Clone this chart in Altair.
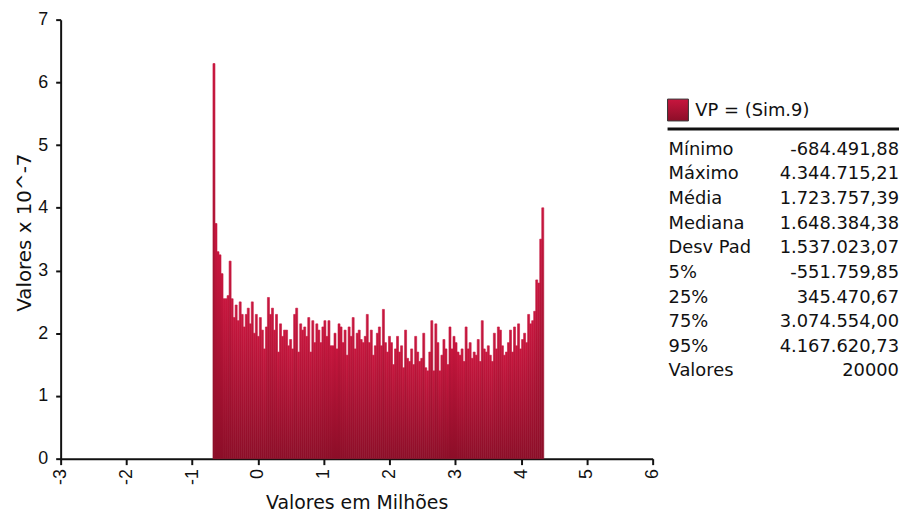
import altair as alt
import pandas as pd

# Histogram: bar heights (x 10^-7), evenly spaced bins between min and max
x_min = -0.68449188
x_max = 4.34471521
heights = [
    6.3, 3.75, 3.3, 3.25, 2.95, 2.55, 2.55, 2.6, 3.15, 2.55,
    2.25, 2.45, 2.2, 2.5, 2.3, 2.1, 2.3, 2.4, 2.15, 2.5,
    2.0, 2.3, 1.95, 2.25, 2.05, 1.75,
    2.1, 2.57, 2.3, 2.4, 2.05, 2.3, 1.7, 2.15, 1.95, 2.05,
    2.05, 1.8, 1.9, 1.75, 2.3, 2.4, 1.7, 2.15, 2.05, 2.1,
    1.95, 2.25, 1.7, 2.2, 1.85, 2.15, 2.05,
    1.85, 2.1, 2.2, 1.95, 2.2, 1.8, 1.8, 2.0, 1.75, 2.15,
    2.1, 1.85, 2.05, 1.65, 2.1, 1.95, 2.25, 1.75, 2.0, 2.05,
    1.9, 1.85, 1.95, 2.3, 1.85, 2.05, 1.65,
    1.8, 2.0, 2.1, 1.8, 2.38, 1.85, 1.7, 1.95, 1.85, 1.5,
    1.75, 1.95, 1.7, 1.8, 1.45, 2.05, 1.6, 1.55, 1.75, 1.5,
    1.95, 1.7, 1.55, 1.6, 2.0, 1.45, 1.4,
    1.7, 2.2, 1.4, 2.15, 1.85, 1.4, 1.65, 1.9, 1.75, 1.5,
    2.1, 1.75, 1.95, 1.85, 1.7, 1.65, 1.75, 1.55, 2.1, 1.75,
    1.85, 1.6, 1.7, 1.65, 1.9, 1.55, 2.2,
    1.75, 1.7, 1.8, 1.65, 1.55, 2.0, 1.75, 2.1, 2.05, 1.8,
    1.65, 1.7, 1.85, 2.05, 1.7, 2.1, 1.8, 2.15, 1.75, 1.9,
    2.0, 1.85, 2.3, 2.15, 2.2, 2.35, 2.85, 2.8, 3.5, 4.0,
]

x_ticks = [-3, -2, -1, 0, 1, 2, 3, 4, 5, 6]
y_ticks = [0, 1, 2, 3, 4, 5, 6, 7]

legend_title = "VP = (Sim.9)"
stat_labels = ["Mínimo", "Máximo", "Média", "Mediana", "Desv Pad",
               "5%", "25%", "75%", "95%", "Valores"]
stat_values = ["-684.491,88", "4.344.715,21", "1.723.757,39", "1.648.384,38",
               "1.537.023,07", "-551.759,85", "345.470,67", "3.074.554,00",
               "4.167.620,73", "20000"]

n = len(heights)
w = (x_max - x_min) / n
df = pd.DataFrame({
    "start": [x_min + i * w for i in range(n)],
    "end": [x_min + (i + 1) * w for i in range(n)],
    "h": heights,
})

FONT = "Liberation Sans"
WIDE = "DejaVu Sans"
grad = alt.Gradient(
    gradient="linear",
    stops=[alt.GradientStop(color="#C8163E", offset=0),
           alt.GradientStop(color="#8C0E28", offset=1)],
    x1=0, x2=0, y1=0, y2=1,
)

bars = alt.Chart(df).mark_bar(color=grad, stroke=grad, strokeWidth=0.6).encode(
    x=alt.X("start:Q",
            scale=alt.Scale(domain=[-3, 6], nice=False, zero=False),
            axis=alt.Axis(values=x_ticks, title="Valores em Milhões",
                          labelAngle=270, labelPadding=4, tickSize=6,
                          labelExpr="'' + datum.value",
                          titlePadding=9, grid=False)),
    x2="end:Q",
    y=alt.Y("h:Q",
            scale=alt.Scale(domain=[0, 7], nice=False),
            axis=alt.Axis(values=y_ticks, title="Valores x 10^-7",
                          tickSize=5, labelPadding=8, titlePadding=3,
                          titleY=214, titleFontSize=20,
                          labelExpr="'' + datum.value",
                          grid=False)),
    y2=alt.datum(0),
)

one = pd.DataFrame({"t": [""]})
layers = [bars]

# legend swatch
layers.append(alt.Chart(one).mark_rect(color=grad, stroke="#333", strokeWidth=1).encode(
    x=alt.value(611), x2=alt.value(632), y=alt.value(80), y2=alt.value(102)))
layers.append(alt.Chart(pd.DataFrame({"t": [legend_title]})).mark_text(
    align="left", baseline="middle", font=WIDE, fontSize=18, color="#111").encode(
    text="t:N", x=alt.value(639), y=alt.value(92)))
layers.append(alt.Chart(one).mark_rule(color="#111", strokeWidth=3).encode(
    x=alt.value(611), x2=alt.value(844), y=alt.value(110)))

for i, (lab, val) in enumerate(zip(stat_labels, stat_values)):
    yy = 131 + i * 24.8
    layers.append(alt.Chart(pd.DataFrame({"t": [lab]})).mark_text(
        align="left", baseline="middle", font=WIDE, fontSize=18, color="#111").encode(
        text="t:N", x=alt.value(612), y=alt.value(yy)))
    layers.append(alt.Chart(pd.DataFrame({"t": [val]})).mark_text(
        align="right", baseline="middle", font=WIDE, fontSize=18, color="#111").encode(
        text="t:N", x=alt.value(844), y=alt.value(yy)))

chart = alt.layer(*layers).properties(
    width=596, height=442,
    padding={"left": 53, "top": 10, "right": 248, "bottom": 55},
    autosize=alt.AutoSizeParams(type="none"),
).configure_view(stroke=None).configure_axis(
    labelFont=FONT, titleFont=WIDE, labelFontSize=18, titleFontSize=19,
    labelColor="#111", titleColor="#111", titleFontWeight="normal",
    domainColor="#111", tickColor="#111", domainWidth=2, tickWidth=2,
)

chart.save("out.html", embed_options={"renderer": "svg", "actions": False})
